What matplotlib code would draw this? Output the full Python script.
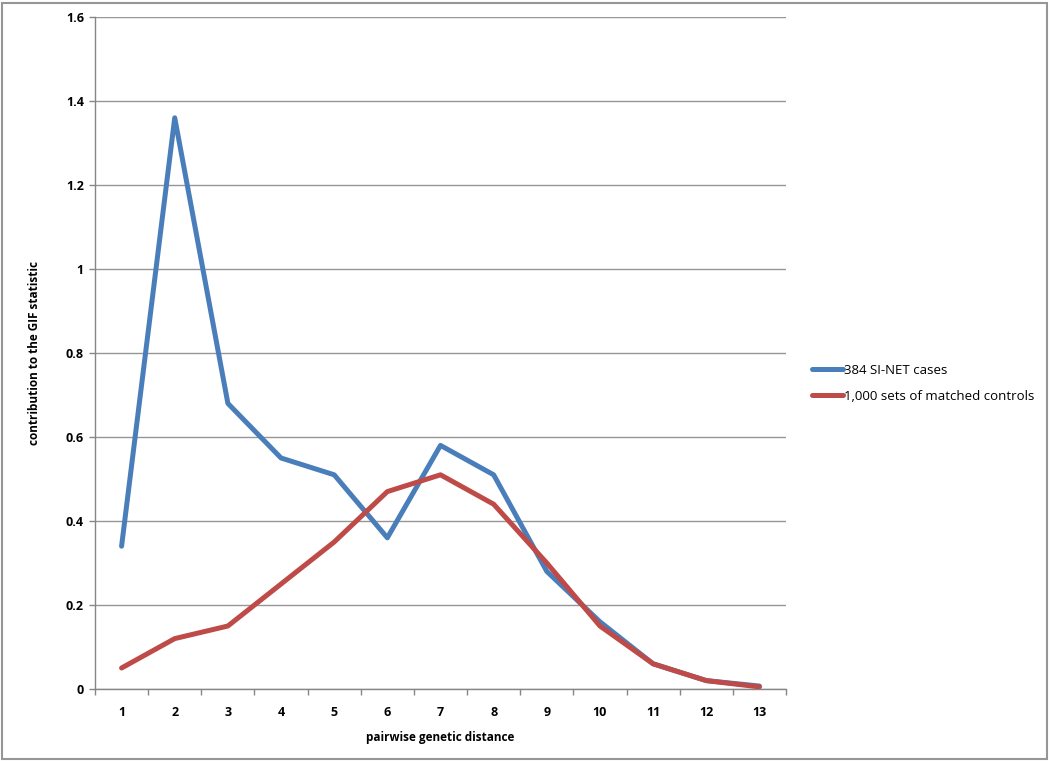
import numpy as np
import matplotlib.pyplot as plt
from matplotlib.patches import Rectangle

distance = list(range(1, 14))
cases = [0.34, 1.36, 0.68, 0.55, 0.51, 0.36, 0.58, 0.51, 0.28, 0.16, 0.06, 0.02, 0.007]
controls = [0.05, 0.12, 0.15, 0.25, 0.35, 0.47, 0.51, 0.44, 0.30, 0.15, 0.06, 0.02, 0.005]
yticks = [0, 0.2, 0.4, 0.6, 0.8, 1.0, 1.2, 1.4, 1.6]
ytick_labels = ["0", "0.2", "0.4", "0.6", "0.8", "1", "1.2", "1.4", "1.6"]

plt.rcParams['font.family'] = ['Open Sans', 'DejaVu Sans']

fig = plt.figure(figsize=(10.5, 7.61), dpi=100)
ax = fig.add_axes([95 / 1050, 1 - 689 / 761, 691 / 1050, 672 / 761])

ax.plot(distance, cases, color='#4A7EBB', lw=3.6, label='384 SI-NET cases', solid_capstyle='round', zorder=3)
ax.plot(distance, controls, color='#BE4B48', lw=3.6, label='1,000 sets of matched controls', solid_capstyle='round', zorder=4)

ax.set_xlim(0.5, 13.5)
ax.set_ylim(0, 1.6)
ax.set_xticks(distance)
ax.set_xticklabels([str(d) for d in distance], fontsize=9, fontweight='bold')
ax.set_xticks(np.arange(0.5, 14, 1), minor=True)
ax.tick_params(axis='x', which='major', length=0, pad=12)
ax.tick_params(axis='x', which='minor', length=4, color='#868686', width=1)
ax.set_yticks(yticks)
ax.set_yticklabels(ytick_labels, fontsize=9, fontweight='bold')
ax.tick_params(axis='y', length=4, color='#868686', width=1, pad=4)
ax.grid(axis='y', color='#969696', lw=1)

for s in ['top', 'right']:
    ax.spines[s].set_visible(False)
for s in ['left', 'bottom']:
    ax.spines[s].set_color('#868686')
    ax.spines[s].set_linewidth(1)

ax.set_xlabel('pairwise genetic distance', fontsize=8.5, fontweight='bold', labelpad=9)
ax.set_ylabel('contribution to the GIF statistic', fontsize=8.5, fontweight='bold', labelpad=18)

ax.legend(loc='center left', bbox_to_anchor=(1.02, 0.455), frameon=False, fontsize=9.5,
          handlelength=2.4, handletextpad=0.05, labelspacing=1.0)

fig.patches.append(Rectangle((2 / 1050, 2 / 761), 1045 / 1050, 756 / 761, transform=fig.transFigure,
                             fill=False, edgecolor='#969696', lw=1.5))

fig.savefig('out.png', dpi=100)
